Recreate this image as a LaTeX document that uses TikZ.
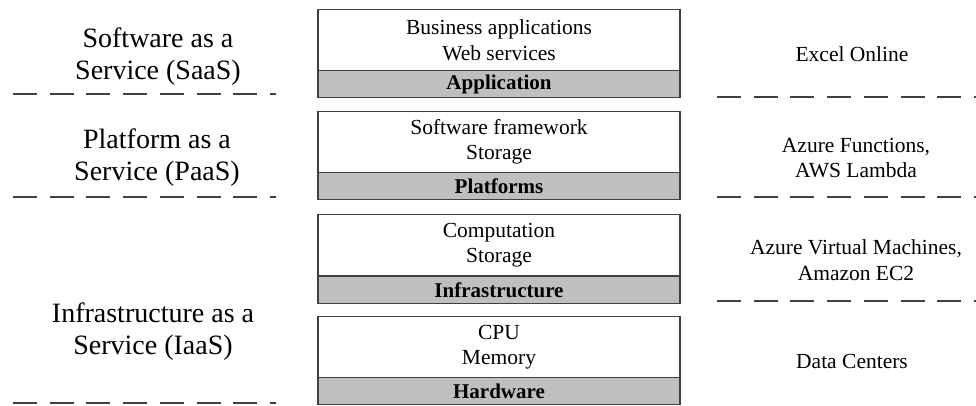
\documentclass[tikz,border=0pt]{standalone}
\usepackage{fontspec}
\setmainfont{Liberation Serif}
\definecolor{bandgray}{HTML}{BFBFBF}
\definecolor{edgegray}{HTML}{404040}
\begin{document}
\begin{tikzpicture}[x=1pt,y=-1pt,
  upper/.style={draw=edgegray,line width=1.4pt,fill=white,minimum width=362pt,minimum height=61pt,inner sep=0pt,anchor=north,align=center,font=\fontsize{21.5}{25}\selectfont},
  band/.style={draw=edgegray,line width=1.4pt,fill=bandgray,minimum width=362pt,minimum height=27pt,inner sep=0pt,anchor=north,font=\fontsize{21}{22}\selectfont\bfseries},
  sidelabel/.style={align=center,font=\fontsize{28}{32}\selectfont},
  rightlabel/.style={align=center,font=\fontsize{21.5}{25.5}\selectfont},
  sep/.style={draw=edgegray,line width=2pt,dash pattern=on 24pt off 12.7pt}
]
\useasboundingbox (0,0) rectangle (976,405);
% boxes
\node[upper] (u1) at (499,9) {Business applications\\Web services};
\node[band] (b1) at (499,70) {Application};
\node[upper] (u2) at (499,111) {Software framework\\Storage};
\node[band] (b2) at (499,172) {Platforms};
\node[upper] (u3) at (499,214) {Computation\\Storage};
\node[band] (b3) at (499,276) {Infrastructure};
\node[upper] (u4) at (499,316) {CPU\\Memory};
\node[band] (b4) at (499,377) {Hardware};
% left labels
\node[sidelabel] (saas) at (158,57) {Software as a\\Service (SaaS)};
\node[sidelabel] (paas) at (157,158) {Platform as a\\Service (PaaS)};
\node[sidelabel] (iaas) at (153,332) {Infrastructure as a\\Service (IaaS)};
% right labels
\node[rightlabel] (excel) at (852,54) {Excel Online};
\node[rightlabel] (func) at (856,158) {Azure Functions,\\AWS Lambda};
\node[rightlabel] (vm) at (856,260) {Azure Virtual Machines,\\Amazon EC2};
\node[rightlabel] (dc) at (852,361) {Data Centers};
% separators
\coordinate (l1a) at (13,94); \coordinate (l1b) at (276,94);
\coordinate (l2a) at (13,197); \coordinate (l2b) at (276,197);
\coordinate (l3a) at (13,403); \coordinate (l3b) at (276,403);
\coordinate (r1a) at (717,97); \coordinate (r1b) at (976,97);
\coordinate (r2a) at (717,197); \coordinate (r2b) at (976,197);
\coordinate (r3a) at (717,301); \coordinate (r3b) at (976,301);
\draw[sep] (l1a) -- (l1b);
\draw[sep] (l2a) -- (l2b);
\draw[sep] (l3a) -- (l3b);
\draw[sep] (r1a) -- (r1b);
\draw[sep] (r2a) -- (r2b);
\draw[sep] (r3a) -- (r3b);
\end{tikzpicture}
\end{document}
